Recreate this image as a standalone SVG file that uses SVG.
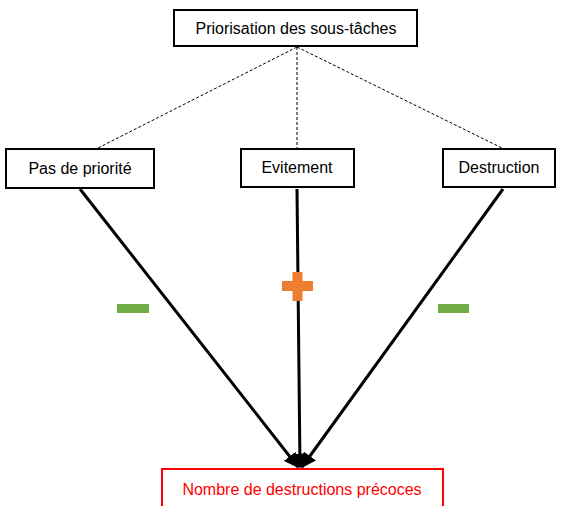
<svg xmlns="http://www.w3.org/2000/svg" width="562" height="506" viewBox="0 0 562 506">
<defs>
<style>
.box{fill:#fff;stroke:#000;stroke-width:2}
.t{font-family:"Liberation Sans",Arial,sans-serif;font-size:16px;fill:#000;text-anchor:middle}
.dash{stroke:#000;stroke-width:1;stroke-dasharray:3,2;fill:none}
.arr{stroke:#000;stroke-width:3;fill:none;marker-end:url(#ah)}
.minus{fill:#70ad47}
.plus{fill:#ed7d31}
</style>
<marker id="ah" viewBox="0 0 10 10" refX="9" refY="5" markerWidth="5" markerHeight="5" orient="auto" markerUnits="strokeWidth">
<path d="M0,0 L10,5 L0,10 z" fill="#000"/>
</marker>
</defs>
<rect width="562" height="506" fill="#fff"/>
<g id="connectors">
<line class="dash" x1="297" y1="47" x2="98" y2="148"/>
<line class="dash" x1="297" y1="47" x2="297" y2="148"/>
<line class="dash" x1="297" y1="47" x2="502" y2="148"/>
<line class="arr" x1="80" y1="189" x2="298" y2="467"/>
<line class="arr" x1="297" y1="189" x2="300" y2="467"/>
<line class="arr" x1="503" y1="189" x2="302" y2="467"/>
</g>
<g id="signs">
<rect class="minus" x="117" y="304" width="32" height="9"/>
<rect class="minus" x="438" y="304" width="31" height="9"/>
<rect class="plus" x="282" y="281" width="31" height="10"/>
<rect class="plus" x="292.5" y="272" width="10" height="29"/>
</g>
<g id="n-prio">
<rect class="box" x="174" y="10" width="243" height="36"/>
<text class="t" x="296" y="34">Priorisation des sous-tâches</text>
</g>
<g id="n-pas">
<rect class="box" x="6" y="149" width="148" height="39"/>
<text class="t" x="80" y="174">Pas de priorité</text>
</g>
<g id="n-evit">
<rect class="box" x="241" y="149" width="113" height="38"/>
<text class="t" x="297" y="173">Evitement</text>
</g>
<g id="n-dest">
<rect class="box" x="443" y="149" width="112" height="38"/>
<text class="t" x="499" y="173">Destruction</text>
</g>
<g id="n-nombre">
<rect x="162" y="469" width="281" height="40" fill="#fff" stroke="#ff0000" stroke-width="2"/>
<text class="t" x="302" y="495" style="fill:#ff0000">Nombre de destructions précoces</text>
</g>
</svg>
